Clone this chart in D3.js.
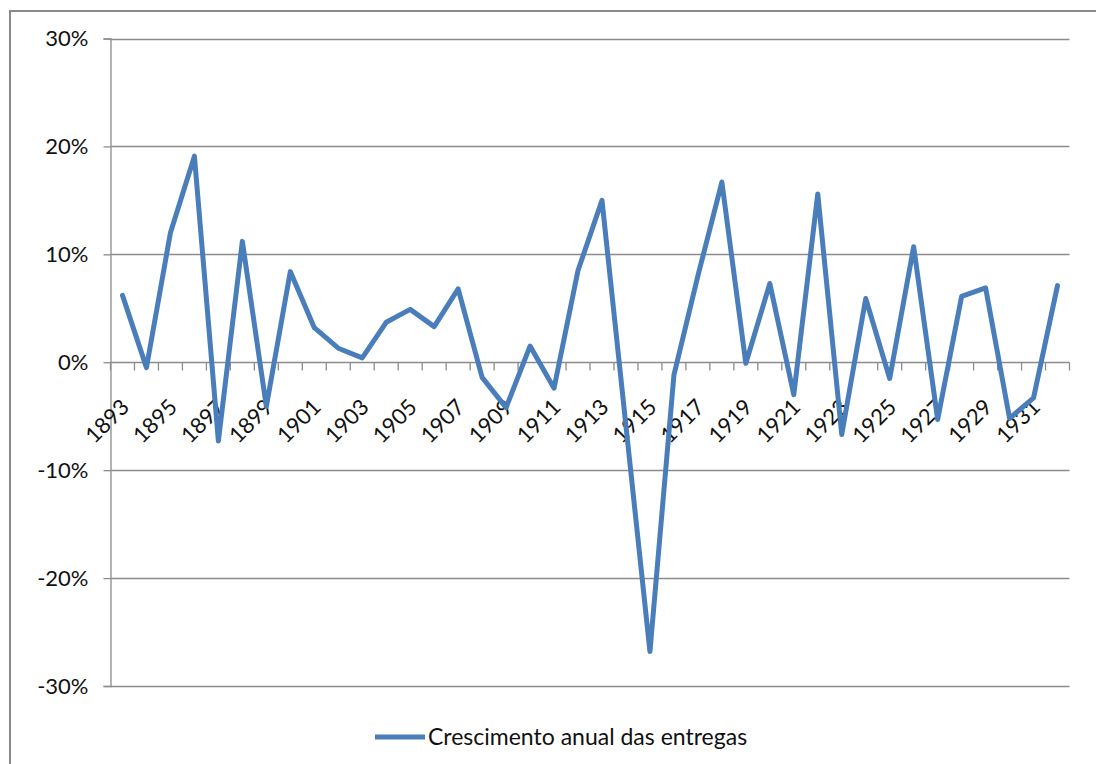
<!DOCTYPE html>
<html>
<head>
<meta charset="utf-8">
<script src="https://cdn.jsdelivr.net/npm/d3@7"></script>
<style>
  html, body { margin: 0; padding: 0; background: #fff; }
  svg { display: block; }
  text { font-family: Lato, "Open Sans", sans-serif; fill: #111; }
</style>
</head>
<body>
<svg id="chart" width="1096" height="764"></svg>
<script>
// Annual growth of deliveries, 1893–1932 (percent)
const years = d3.range(1893, 1933).map(String);
const growth = [
   6.2, -0.5, 12.0, 19.1, -7.3, 11.2, -4.1,  8.4,  3.2,  1.3,
   0.4,  3.7,  4.9,  3.3,  6.8, -1.4, -4.2,  1.5, -2.4,  8.5,
  15.0, -5.9, -26.8, -1.2, 8.0, 16.7, -0.1,  7.3, -3.0, 15.6,
  -6.7,  5.9, -1.5, 10.7, -5.3,  6.1,  6.9, -5.2, -3.3,  7.1
];
const yTicks = [-30, -20, -10, 0, 10, 20, 30];
const xLabels = years.filter((d, i) => i % 2 === 0);
const seriesName = "Crescimento anual das entregas";

const data = years.map((y, i) => ({ year: y, value: growth[i] }));

const svg = d3.select("#chart");
const plotLeft = 110.5, plotRight = 1069.5, plotTop = 38.5, plotBottom = 686;
const lineColor = "#4a7ebb";
const gridColor = "#8c8c8c";

// outer chart frame
svg.append("path")
  .attr("d", "M10,764 L10,11 L1096,11")
  .attr("fill", "none")
  .attr("stroke", "#8a8a8a")
  .attr("stroke-width", 2);

const x = d3.scaleBand().domain(years).range([plotLeft, plotRight]).padding(0);
const y = d3.scaleLinear().domain([-30, 30]).range([plotBottom, plotTop]);

// horizontal gridlines
svg.append("g")
  .selectAll("line")
  .data(yTicks)
  .join("line")
  .attr("x1", plotLeft).attr("x2", plotRight)
  .attr("y1", d => Math.round(y(d)) + 0.5)
  .attr("y2", d => Math.round(y(d)) + 0.5)
  .attr("stroke", gridColor)
  .attr("stroke-width", 1.3);

// vertical axis with tick labels
const yAxis = svg.append("g")
  .attr("transform", `translate(${plotLeft},0)`)
  .call(d3.axisLeft(y)
    .tickValues(yTicks)
    .tickSize(7)
    .tickPadding(15)
    .tickFormat(d => d + "%"));
yAxis.select(".domain").attr("stroke", gridColor).attr("stroke-width", 1.3);
yAxis.selectAll(".tick line").attr("stroke", gridColor).attr("stroke-width", 1.3);
yAxis.selectAll(".tick text")
  .attr("font-size", 22)
  .style("font-family", "Lato, 'Open Sans', sans-serif")
  .attr("fill", "#111");

// category tick marks on the zero line, at band boundaries
const y0 = Math.round(y(0)) + 0.5;
const boundaries = years.map(d => x(d)).concat([x(years[years.length - 1]) + x.bandwidth()]);
svg.append("g")
  .selectAll("line")
  .data(boundaries)
  .join("line")
  .attr("x1", d => d).attr("x2", d => d)
  .attr("y1", y0).attr("y2", y0 + 8)
  .attr("stroke", gridColor)
  .attr("stroke-width", 1.3);

// rotated year labels
svg.append("g")
  .selectAll("text")
  .data(xLabels)
  .join("text")
  .attr("text-anchor", "end")
  .attr("font-size", 22)
  .attr("transform", d => `translate(${x(d) + x.bandwidth() / 2 + 8},${y0 + 46}) rotate(-45)`)
  .text(d => d);

// growth line
const line = d3.line()
  .x(d => x(d.year) + x.bandwidth() / 2)
  .y(d => y(d.value));

svg.append("path")
  .datum(data)
  .attr("d", line)
  .attr("fill", "none")
  .attr("stroke", lineColor)
  .attr("stroke-width", 5)
  .attr("stroke-linejoin", "round")
  .attr("stroke-linecap", "round");

// legend
const legend = svg.append("g").attr("transform", "translate(375,737)");
legend.append("line")
  .attr("x1", 0).attr("x2", 50)
  .attr("y1", 0).attr("y2", 0)
  .attr("stroke", lineColor)
  .attr("stroke-width", 5);
legend.append("text")
  .attr("x", 53)
  .attr("y", 0)
  .attr("dy", "0.35em")
  .attr("font-size", 23)
  .text(seriesName);
</script>
</body>
</html>
